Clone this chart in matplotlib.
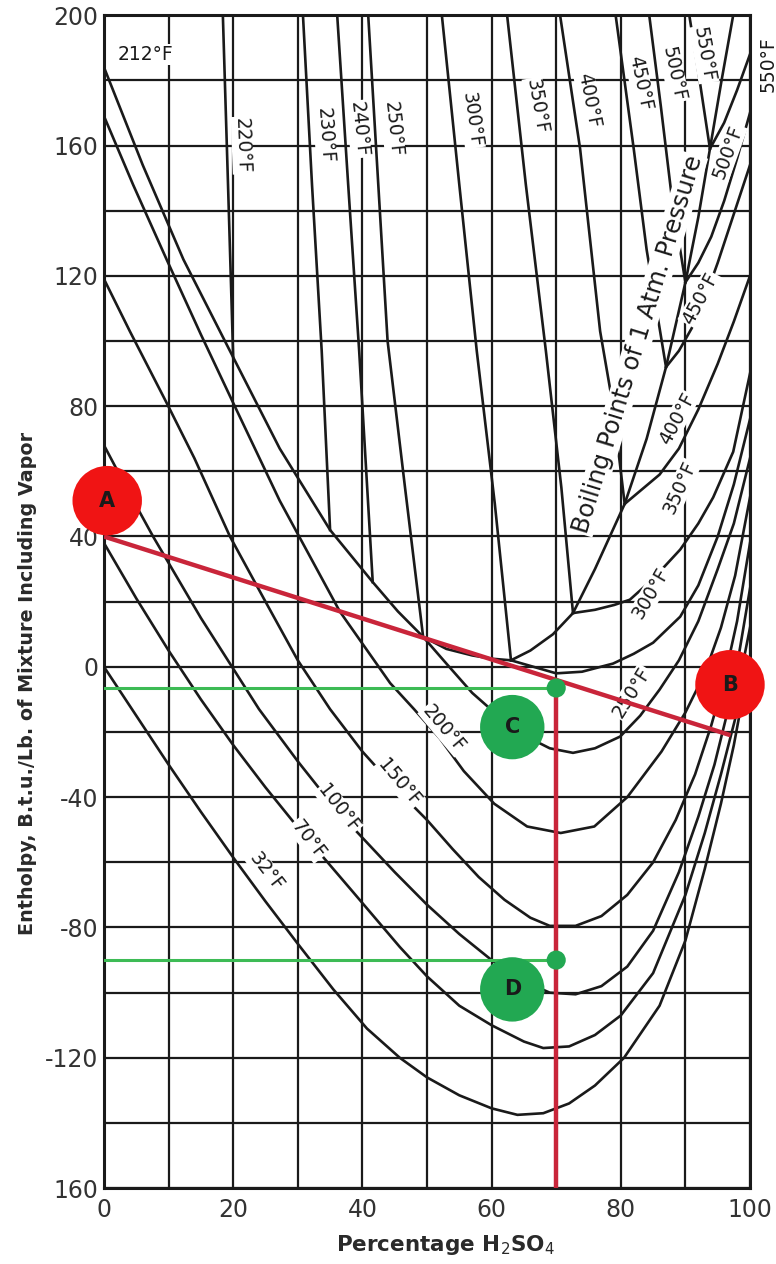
import matplotlib
matplotlib.use("Agg")
import matplotlib.pyplot as plt
import numpy as np

# ---------------------------------------------------------------------------
# Data (x = % H2SO4, y = enthalpy Btu/lb)
# ---------------------------------------------------------------------------
# liquid isotherms
iso32_x = [0, 5, 10, 15, 20, 25, 30, 35.5, 40.7, 45.8, 50, 55, 60, 64, 68, 72, 76, 80.5, 86, 90, 93, 95.5, 97.5, 99, 100]
iso32_y = [0, -15, -30, -44.5, -58.5, -72, -85, -99, -111, -120, -126, -131.5, -135.5, -137.5, -137, -134, -128.5, -120, -104, -84, -62, -42, -24, -8, 0]

iso70_x = [0, 5, 10, 15, 20, 25, 30.3, 38.5, 45.8, 50, 55, 60, 65, 68, 72, 76, 80, 85, 90, 93, 95.5, 97.7, 99, 100]
iso70_y = [38, 21, 5, -10, -24, -37, -50, -69, -86, -95, -104, -110, -115, -117, -116.5, -113, -107, -94, -70, -51, -33, -16, 2, 12]

iso100_x = [0, 4, 7.6, 15, 24, 30, 36, 45, 50, 55, 60, 65, 69, 73, 77, 81, 85, 89, 92, 94.5, 96.5, 98.3, 100]
iso100_y = [68, 53, 40, 15, -13, -29, -44, -63, -73, -82, -90, -96.5, -100, -100.5, -98, -92, -81, -63, -46, -30, -14, 4, 24]

iso150_x = [0, 4, 9.7, 14, 19.5, 25, 30, 35, 40, 45, 50, 54, 58, 62, 66, 69, 73, 77, 81, 85, 88.5, 91.5, 94, 96, 98, 100]
iso150_y = [119, 103, 81, 64, 40, 20, 2, -13, -26, -37, -47, -56, -64.5, -71.5, -77, -79.5, -79.5, -76.5, -70, -60, -47, -33, -18, -4, 14, 38]

iso200_x = [0, 4.5, 9.7, 15, 20, 27.2, 36.5, 44.3, 48, 52, 55.7, 60.4, 65.5, 70.7, 75.9, 81, 86.3, 90, 93, 95.5, 97.7, 100]
iso200_y = [169, 148, 125, 102, 81, 51, 17, -5, -13, -22, -32, -42, -49, -51, -49, -40, -26, -14, -2, 12, 28, 52]

iso250_x = [49.4, 53, 57, 61, 65, 69, 72.6, 76, 79.9, 83, 86, 89, 92, 95, 97.5, 100]
iso250_y = [9.2, 1, -8, -15, -21, -25, -26.4, -25, -21.4, -15, -7, 2, 14, 30, 44, 64]

iso300_x = [63, 66.5, 70, 74, 78.8, 82, 85, 89.2, 92, 95, 97.5, 100]
iso300_y = [2, 0, -2, -1.5, 1, 4, 7.4, 15.4, 25, 40, 56, 76]

iso350_x = [72.6, 76, 79, 81.4, 85, 89.2, 92, 94.3, 97.4, 100]
iso350_y = [16.5, 17.5, 19, 20.6, 27, 36, 44, 52, 66, 90]

iso400_x = [80.6, 83, 86, 89, 92, 95, 97.5, 100]
iso400_y = [50, 54, 59, 67, 79, 93, 106, 120]

iso450_x = [87, 89, 91, 93, 95, 97, 99, 100]
iso450_y = [92, 97, 104, 113, 124, 136, 148, 154]

iso500_x = [90, 92, 94, 96, 98, 100]
iso500_y = [118, 124, 132, 143, 156, 170]

iso550_x = [93.8, 96, 98, 100]
iso550_y = [159, 167, 177, 188]

# boiling points at 1 atm
boil_x = [0, 6, 12.3, 20, 27.2, 35, 41.6, 45.5, 49.4, 53, 57, 60, 63, 66, 69.5,
          72.6, 76, 80.6, 84, 87, 90, 92, 93.8, 95.6, 97.4]
boil_y = [184, 154, 125, 95, 67, 42, 26, 17, 9.2, 5.5, 3.5, 2.5, 2, 5, 10,
          16.5, 30, 50, 70, 92, 118, 138, 159, 180, 200]

# liquid + vapor lines above the boiling curve
vap220_x = [18.4, 19.2, 20]
vap220_y = [200, 148, 95]
vap230_x = [30.8, 32.2, 33.7, 35]
vap230_y = [200, 148, 97, 42]
vap240_x = [36.1, 37.8, 39.5, 41.6]
vap240_y = [200, 148, 97, 26]
vap250_x = [40.9, 42.4, 43.9, 46.6, 49.4]
vap250_y = [200, 150, 100, 55, 9.2]
vap300_x = [52.3, 55, 57.7, 60.5, 63]
vap300_y = [200, 148, 97, 50, 2]
vap350_x = [62.4, 65.3, 68.4, 70.8, 72.6]
vap350_y = [200, 148, 97, 55, 16.5]
vap400_x = [70.6, 73.7, 76.8, 78.8, 80.6]
vap400_y = [200, 159, 103, 80, 50]
vap450_x = [79.2, 82, 84, 85.5, 87]
vap450_y = [200, 159, 128, 110, 92]
vap500_x = [84.4, 86.2, 87.9, 90]
vap500_y = [200, 172, 144, 118]
vap550_x = [90.6, 92.2, 93.8]
vap550_y = [200, 180, 159]

# worked example overlay: A + B -> C, cooled to D
point_a = (0, 40)
point_b = (97, -21)
mix_pct = 70
h_c = -6.5
h_d = -90

y_ticks = [200, 160, 120, 80, 40, 0, -40, -80, -120, -160]
y_ticklabels = ["200", "160", "120", "80", "40", "0", "-40", "-80", "-120", "160"]
x_ticks = [0, 20, 40, 60, 80, 100]

# ---------------------------------------------------------------------------
fig = plt.figure(figsize=(7.76, 12.64), dpi=100)
ax = fig.add_axes([0.134, 0.060, 0.8325, 0.928])
ax.set_xlim(0, 100)
ax.set_ylim(-160, 200)

INK = "#1a1a1a"
ax.set_xticks(x_ticks)
ax.set_xticks(np.arange(0, 101, 10), minor=True)
ax.set_yticks(y_ticks)
ax.set_yticklabels(y_ticklabels)
ax.set_yticks(np.arange(-160, 201, 20), minor=True)
ax.grid(True, which="both", color=INK, lw=1.6)
ax.set_axisbelow(True)
ax.tick_params(which="both", length=0)
ax.tick_params(axis="y", pad=4, labelsize=17, labelcolor="#333333")
ax.tick_params(axis="x", pad=7, labelsize=17, labelcolor="#333333")
for sp in ax.spines.values():
    sp.set_linewidth(2.2)
    sp.set_color(INK)

curves = [
    (iso32_x, iso32_y), (iso70_x, iso70_y), (iso100_x, iso100_y),
    (iso150_x, iso150_y), (iso200_x, iso200_y), (iso250_x, iso250_y),
    (iso300_x, iso300_y), (iso350_x, iso350_y), (iso400_x, iso400_y),
    (iso450_x, iso450_y), (iso500_x, iso500_y), (iso550_x, iso550_y),
    (boil_x, boil_y),
    (vap220_x, vap220_y), (vap230_x, vap230_y), (vap240_x, vap240_y),
    (vap250_x, vap250_y), (vap300_x, vap300_y), (vap350_x, vap350_y),
    (vap400_x, vap400_y), (vap450_x, vap450_y), (vap500_x, vap500_y),
    (vap550_x, vap550_y),
]
for cx, cy in curves:
    ax.plot(cx, cy, color=INK, lw=1.9, solid_joinstyle="round", zorder=3)

# curve labels: text, x, y, rotation
labels = [
    ("212°F", 6.5, 188, 0),
    ("220°F", 21.4, 160, -88),
    ("230°F", 34.2, 163, -86),
    ("240°F", 39.4, 165, -84),
    ("250°F", 44.7, 165, -84),
    ("300°F", 56.9, 168, -82),
    ("350°F", 67.0, 172, -80),
    ("400°F", 75.0, 174, -79),
    ("450°F", 83.0, 179, -78),
    ("500°F", 88.2, 182, -78),
    ("550°F", 92.9, 188, -80),
    ("32°F", 25.2, -63, -52),
    ("70°F", 31.6, -53, -52),
    ("100°F", 36.3, -43.5, -52),
    ("150°F", 45.7, -35.5, -50),
    ("200°F", 52.6, -19, -50),
    ("250°F", 81.7, -8, 58),
    ("300°F", 84.7, 22.5, 60),
    ("350°F", 89.2, 55, 66),
    ("400°F", 88.7, 76, 62),
    ("450°F", 92.3, 113, 62),
    ("500°F", 96.6, 158, 70),
]
for txt, lx, ly, rot in labels:
    ax.text(lx, ly, txt, rotation=rot, ha="center", va="center",
            fontsize=13.5, color=INK, zorder=4,
            bbox=dict(boxstyle="square,pad=0.05", fc="white", ec="none"))
ax.text(102.8, 185, "550°F", rotation=90, ha="center", va="center",
        fontsize=13.5, color=INK, clip_on=False)
ax.text(82.6, 99, "Boiling Points of 1 Atm. Pressure", rotation=73,
        ha="center", va="center", fontsize=17.5, color=INK, zorder=4,
        bbox=dict(boxstyle="square,pad=0.05", fc="white", ec="none"))

# overlay of the worked example
RED_LINE = "#c9253a"
RED_DOT = "#f01414"
GREEN_LINE = "#3dbb55"
GREEN_DOT = "#22a852"

ax.plot([point_a[0], point_b[0]], [point_a[1], point_b[1]], color=RED_LINE,
        lw=3.2, zorder=6, solid_capstyle="butt")
ax.plot([mix_pct, mix_pct], [h_c, -160], color=RED_LINE, lw=3.2, zorder=6)
ax.plot([0, mix_pct], [h_c, h_c], color=GREEN_LINE, lw=2.2, zorder=5)
ax.plot([0, mix_pct], [h_d, h_d], color=GREEN_LINE, lw=2.2, zorder=5)
ax.scatter([mix_pct, mix_pct], [h_c, h_d], s=190, color=GREEN_DOT, zorder=7,
           edgecolors="none")

circles = [("A", 0.5, 51, RED_DOT, 2500), ("B", 96.9, -5.5, RED_DOT, 2500),
           ("C", 63.2, -18.5, GREEN_DOT, 2150), ("D", 63.2, -99, GREEN_DOT, 2150)]
for name, cxp, cyp, col, size in circles:
    ax.scatter([cxp], [cyp], s=size, color=col, zorder=8, edgecolors="none",
               clip_on=False)
    ax.text(cxp, cyp, name, ha="center", va="center", fontsize=15,
            fontweight="bold", color="#1a1a1a", zorder=9)

ax.set_ylabel("Entholpy, B.t.u./Lb. of Mixture Including Vapor",
              fontsize=13.8, fontweight="bold", color="#2a2a2a")
ax.yaxis.set_label_coords(-0.103, 0.43)
ax.set_xlabel("Percentage H$_2$SO$_4$", fontsize=15.5, fontweight="bold",
              color="#2a2a2a")
ax.xaxis.set_label_coords(0.528, -0.038)

fig.savefig("out.png", dpi=100)
